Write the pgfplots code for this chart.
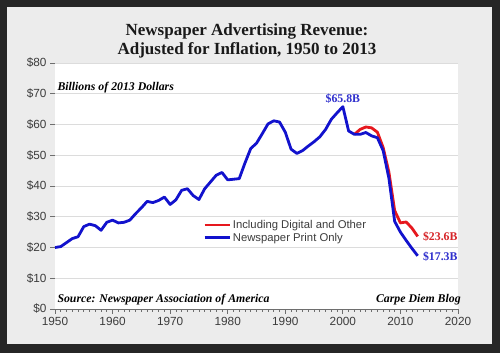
\documentclass[border=0pt]{standalone}
\usepackage{fontspec}
\setmainfont{Liberation Serif}
\newfontfamily\arial{Liberation Sans}
\usepackage{pgfplots}
\pgfplotsset{compat=1.18}
\definecolor{borderc}{RGB}{38,38,38}
\definecolor{panelc}{RGB}{236,236,236}
\definecolor{linered}{RGB}{230,24,30}
\definecolor{lineblue}{RGB}{18,18,205}
\definecolor{labred}{RGB}{214,36,40}
\definecolor{labblue}{RGB}{48,48,205}
\definecolor{textgray}{RGB}{60,60,60}
\definecolor{gridc}{RGB}{220,220,220}
\definecolor{axisc}{RGB}{110,110,110}

\pgfplotstableread{
year val
1950 20.0
1951 20.3
1952 21.6
1953 22.9
1954 23.5
1955 26.8
1956 27.6
1957 27.1
1958 25.6
1959 28.2
1960 28.9
1961 28.0
1962 28.2
1963 28.9
1964 31.0
1965 32.9
1966 35.0
1967 34.6
1968 35.3
1969 36.4
1970 34.0
1971 35.5
1972 38.6
1973 39.1
1974 36.9
1975 35.6
1976 39.1
1977 41.3
1978 43.5
1979 44.4
1980 42.0
1981 42.2
1982 42.4
1983 47.5
1984 52.2
1985 53.9
1986 57.0
1987 60.2
1988 61.2
1989 60.8
1990 57.5
1991 52.0
1992 50.6
1993 51.5
1994 53.0
1995 54.4
1996 56.0
1997 58.4
1998 61.7
1999 63.8
2000 65.8
2001 57.9
2002 56.8
2003 56.8
2004 57.4
2005 56.3
2006 55.7
2007 51.5
2008 42.5
2009 28.5
2010 25.0
2011 22.3
2012 19.7
2013 17.3
}\printonly

\pgfplotstableread{
year val
2002 56.8
2003 58.4
2004 59.2
2005 58.9
2006 57.5
2007 52.5
2008 44.5
2009 32.0
2010 28.0
2011 28.3
2012 26.3
2013 23.6
}\withdigital

\begin{document}
\begin{tikzpicture}
\useasboundingbox (0bp,0bp) rectangle (500bp,353bp);
\fill[borderc] (0bp,0bp) rectangle (500bp,353bp);
\fill[panelc] (7bp,9bp) rectangle (492bp,346bp);
\node[font=\bfseries\fontsize{17bp}{19bp}\selectfont, text=black!90, align=center] at (247bp,312bp)
  {Newspaper Advertising Revenue:\\Adjusted for Inflation, 1950 to 2013};
\begin{axis}[
  at={(55bp,44bp)}, anchor=south west,
  scale only axis, width=403bp, height=246bp,
  xmin=1950, xmax=2020, ymin=0, ymax=80,
  axis background/.style={fill=white},
  axis x line*=bottom, axis y line*=left,
  x axis line style={draw=axisc, line width=0.8bp, -},
  y axis line style={draw=none},
  xtick={1950,1960,...,2020},
  minor x tick num=9,
  ytick={0,10,...,80},
  tick align=outside,
  major tick length=5bp, minor tick length=3bp,
  every tick/.style={draw=axisc, line width=0.8bp},
  ymajorgrids, grid style={draw=gridc, line width=0.9bp},
  /pgf/number format/assume math mode=true,
  /pgf/number format/1000 sep={},
  yticklabel={\$\pgfmathprintnumber{\tick}},
  every tick label/.append style={font=\arial\fontsize{11.8bp}{13bp}\selectfont, text=textgray},
  legend cell align=left,
  legend image code/.code={\draw[#1] (0bp,0bp) -- (25bp,0bp);},
  legend style={at={(0.367,0.37)}, anchor=north west, draw=none, fill=none,
    inner sep=0pt, row sep=-1bp,
    font=\arial\fontsize{11.3bp}{12bp}\selectfont, text=textgray,
    /tikz/every even column/.append style={column sep=3bp}},
  clip=false,
]
\addplot[linered, line width=2.8bp, line join=round] table[x=year,y=val]{\withdigital};
\addlegendentry{Including Digital and Other}
\addplot[lineblue, line width=2.8bp, line join=round] table[x=year,y=val]{\printonly};
\addlegendentry{Newspaper Print Only}
\node[anchor=base west, font=\bfseries\itshape\fontsize{11.8bp}{12bp}\selectfont, inner sep=0pt] at (axis cs:1950.4,71.0) {Billions of 2013 Dollars};
\node[anchor=base west, font=\bfseries\itshape\fontsize{11.8bp}{12bp}\selectfont, inner sep=0pt] at (axis cs:1950.4,2.0) {Source: Newspaper Association of America};
\node[anchor=base east, font=\bfseries\itshape\fontsize{11.8bp}{12bp}\selectfont, inner sep=0pt] at (axis cs:2020.5,2.0) {Carpe Diem Blog};
\node[anchor=base, font=\bfseries\fontsize{11.8bp}{12bp}\selectfont, text=labblue, inner sep=0pt] at (axis cs:2000,67.0) {\$65.8B};
\node[anchor=west, font=\bfseries\fontsize{11.8bp}{12bp}\selectfont, text=labred, inner sep=0pt] at (axis cs:2013.9,23.6) {\$23.6B};
\node[anchor=west, font=\bfseries\fontsize{11.8bp}{12bp}\selectfont, text=labblue, inner sep=0pt] at (axis cs:2013.9,17.1) {\$17.3B};
\end{axis}
\end{tikzpicture}
\end{document}
